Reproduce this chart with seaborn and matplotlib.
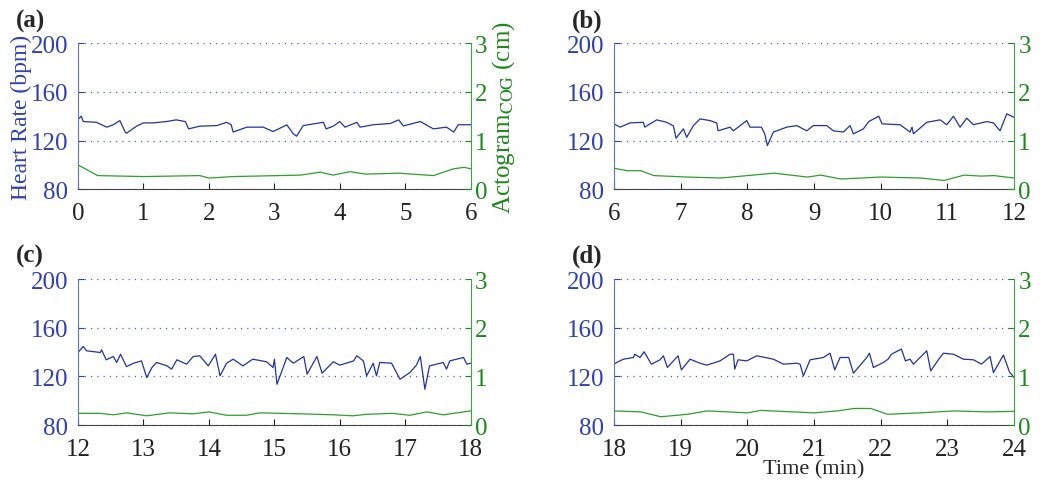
import numpy as np
import pandas as pd
import matplotlib
matplotlib.use("Agg")
import matplotlib.pyplot as plt
import seaborn as sns

# heart rate traces (time in min, bpm)
a_t = [0, 0.05, 0.08, 0.28, 0.44, 0.54, 0.64, 0.72, 0.74, 0.9, 1.0, 1.15, 1.35, 1.5, 1.64, 1.69,
       1.86, 2.12, 2.27, 2.34, 2.37, 2.58, 2.83, 2.98, 3.19, 3.29, 3.34, 3.44, 3.6, 3.75, 3.79,
       3.9, 4.0, 4.08, 4.26, 4.31, 4.51, 4.77, 4.9, 4.97, 5.23, 5.43, 5.63, 5.74, 5.81, 6.0]
a_hr = [137.5, 140, 135.6, 135, 131, 133, 136.4, 127, 126, 132, 134.5, 134.5, 135.6, 137, 135.6, 129.6,
        131.8, 132.3, 135, 133, 127, 131, 131, 127.4, 132.9, 125.5, 123.6, 132.3, 133.7, 135, 129.6,
        131.8, 135.6, 131, 135, 131, 133, 134, 137, 132, 135.6, 129.6, 131, 127, 133, 133]

b_t = [6, 6.09, 6.24, 6.44, 6.46, 6.64, 6.79, 6.89, 6.93, 7.04, 7.09, 7.19, 7.29, 7.44, 7.54, 7.56,
       7.74, 7.79, 7.99, 8.04, 8.21, 8.26, 8.3, 8.39, 8.59, 8.74, 8.89, 8.99, 9.19, 9.29, 9.44, 9.54,
       9.59, 9.74, 9.82, 9.97, 10.02, 10.29, 10.44, 10.47, 10.49, 10.69, 10.89, 10.99, 11.09, 11.19,
       11.29, 11.39, 11.59, 11.69, 11.79, 11.89, 12.0]
b_hr = [133.7, 131, 134.5, 135, 131, 137, 135, 132, 121.9, 129.6, 122.7, 132.3, 137.8, 136.4, 134.5, 128,
        131, 128, 136.4, 131, 131, 125.5, 115.9, 127, 131, 132.3, 128, 132.3, 132.3, 128, 127, 132.3,
        125.5, 129.6, 135.6, 140, 133.7, 133, 127, 131, 125.5, 135, 137, 133, 140, 131,
        138.4, 133, 135.6, 134.5, 128, 142, 139]

c_t = [12, 12.08, 12.13, 12.34, 12.36, 12.43, 12.54, 12.59, 12.65, 12.74, 12.85, 12.97, 13.05, 13.13,
       13.2, 13.36, 13.43, 13.51, 13.66, 13.76, 13.86, 13.99, 14.1, 14.17, 14.27, 14.37, 14.52, 14.67,
       14.88, 14.98, 15.0, 15.04, 15.19, 15.29, 15.45, 15.5, 15.65, 15.73, 15.9, 16.0, 16.21, 16.26,
       16.36, 16.41, 16.51, 16.56, 16.61, 16.79, 16.92, 17.07, 17.17, 17.23, 17.3, 17.37, 17.58,
       17.63, 17.68, 17.89, 17.94, 18.0]
c_hr = [139.6, 144.6, 141, 139.6, 141.8, 133.6, 136.3, 131.4, 138.2, 128, 130.8, 132.7, 119, 127.3,
        131.4, 128.6, 125.9, 133.6, 130, 136.3, 136.9, 128.6, 138.2, 120.4, 130.8, 134.1, 128.6, 134.1,
        132, 127.3, 134, 113.5, 135.5, 130.8, 136.3, 121.8, 136.3, 122.6, 132, 129.2, 132.7, 136.9,
        132.7, 120.4, 130.8, 120.4, 131.4, 130.8, 117.6, 123.1, 129.2, 136.3, 109.4, 128.6, 131.4,
        125.9, 132.7, 135.5, 130, 130.8]

d_t = [18, 18.04, 18.14, 18.29, 18.31, 18.39, 18.45, 18.56, 18.69, 18.74, 18.8, 18.96, 19.01, 19.14,
       19.29, 19.39, 19.59, 19.74, 19.79, 19.81, 19.86, 19.99, 20.14, 20.39, 20.54, 20.74, 20.79,
       20.84, 20.94, 21.14, 21.24, 21.31, 21.39, 21.52, 21.59, 21.79, 21.83, 21.89, 22.04, 22.11,
       22.16, 22.31, 22.37, 22.44, 22.49, 22.69, 22.75, 22.87, 22.94, 23.09, 23.24, 23.39, 23.51,
       23.64, 23.69, 23.84, 23.93, 24.0]
d_hr = [130, 131.4, 134.1, 135.5, 138.2, 135.5, 140.2, 130, 133.6, 136.9, 127.3, 136.9, 125.3, 134.1,
        130.8, 129.2, 132.7, 138.2, 138.2, 125.9, 133.6, 132.7, 136.9, 134.1, 130, 130.8, 130,
        120.4, 133.6, 135.5, 139, 125.3, 135.5, 135.5, 122.6, 135.5, 139, 127.3, 131.4, 134.1,
        138.2, 142.4, 132.7, 134.1, 130, 141, 124.5, 134.1, 139, 138.2, 134.1, 133.6, 130,
        136.3, 123.1, 137.5, 123.7, 119]

# actogram COG (time in min, cm)
a_at = [0, 0.3, 1.0, 1.86, 2.0, 2.37, 3.4, 3.7, 3.9, 4.15, 4.4, 4.9, 5.43, 5.74, 5.9, 6.0]
a_act = [0.5, 0.28, 0.26, 0.28, 0.23, 0.26, 0.29, 0.35, 0.29, 0.36, 0.31, 0.33, 0.28, 0.42, 0.45, 0.42]
b_at = [6, 6.2, 6.4, 6.6, 7.1, 7.6, 8.0, 8.4, 8.9, 9.1, 9.4, 10.0, 10.6, 10.95, 11.25, 11.5, 11.7, 12.0]
b_act = [0.43, 0.38, 0.38, 0.28, 0.25, 0.23, 0.28, 0.33, 0.25, 0.29, 0.21, 0.25, 0.23, 0.18, 0.29, 0.27, 0.28, 0.23]
c_at = [12, 12.34, 12.54, 12.74, 13.05, 13.4, 13.76, 14.0, 14.27, 14.57, 14.78, 15.4, 15.9, 16.2, 16.41,
        16.8, 17.07, 17.33, 17.58, 18.0]
c_act = [0.24, 0.24, 0.21, 0.25, 0.19, 0.25, 0.23, 0.27, 0.2, 0.2, 0.25, 0.23, 0.21, 0.19, 0.22,
         0.24, 0.2, 0.27, 0.21, 0.29]
d_at = [18, 18.4, 18.7, 19.1, 19.4, 20.0, 20.2, 21.0, 21.35, 21.6, 21.85, 22.1, 22.6, 23.1, 23.6, 24.0]
d_act = [0.29, 0.27, 0.17, 0.22, 0.29, 0.25, 0.3, 0.25, 0.29, 0.34, 0.34, 0.22, 0.25, 0.29, 0.27, 0.28]

panels = [
    ("(a)", a_t, a_hr, a_at, a_act, [0, 6]),
    ("(b)", b_t, b_hr, b_at, b_act, [6, 12]),
    ("(c)", c_t, c_hr, c_at, c_act, [12, 18]),
    ("(d)", d_t, d_hr, d_at, d_act, [18, 24]),
]

sns.set_style("ticks")
plt.rcParams["font.family"] = ["Liberation Serif", "DejaVu Serif"]
plt.rcParams["mathtext.fontset"] = "stix"

blue_line = "#2233a0"
blue_txt = "#3040b0"
green_line = "#2e9e2e"
green_txt = "#1a8a1a"

fig = plt.figure(figsize=(10.5, 4.89), dpi=100)
boxes = [
    [0.0743, 0.611, 0.374, 0.2986],
    [0.5848, 0.611, 0.381, 0.2986],
    [0.0743, 0.1288, 0.374, 0.2986],
    [0.5848, 0.1288, 0.381, 0.2986],
]
# panel letter positions in figure fraction
letter_xy = [(0.015, 0.98), (0.545, 0.98), (0.015, 0.5), (0.545, 0.5)]

for i, (lab, t, hr, at, act, xl) in enumerate(panels):
    ax = fig.add_axes(boxes[i])
    hr_df = pd.DataFrame({"time": t, "hr": hr})
    act_df = pd.DataFrame({"time": at, "act": act})
    sns.lineplot(data=hr_df, x="time", y="hr", ax=ax, color=blue_line, linewidth=0.9)
    ax.set_xlim(xl)
    ax.set_ylim(80, 200)
    ax.set_yticks([80, 120, 160, 200])
    ax.set_xticks(range(xl[0], xl[1] + 1))
    ax.grid(axis="y", linestyle=(0, (1, 4)), color="#5060c8", linewidth=0.9)
    ax.tick_params(axis="y", colors=blue_txt, labelsize=18, direction="in", length=4, pad=7)
    ax.tick_params(axis="x", labelsize=18, direction="in", length=4, colors="#222222", pad=9)
    ax.set_xlabel("")
    ax.set_ylabel("")
    for s in ["top", "right"]:
        ax.spines[s].set_visible(False)
    ax.spines["left"].set_color("#6070d0")
    ax.spines["bottom"].set_color("#444444")

    ax2 = ax.twinx()
    sns.lineplot(data=act_df, x="time", y="act", ax=ax2, color=green_line, linewidth=0.9)
    ax2.set_ylim(0, 3)
    ax2.set_yticks([0, 1, 2, 3])
    ax2.tick_params(axis="y", colors=green_txt, labelsize=18, direction="in", length=4, pad=3)
    ax2.set_ylabel("")
    ax2.set_xlabel("")
    for s in ["top", "left", "bottom"]:
        ax2.spines[s].set_visible(False)
    ax2.spines["right"].set_visible(True)
    ax2.spines["right"].set_color("#3aa83a")

    fig.text(letter_xy[i][0], letter_xy[i][1], lab, fontsize=18, fontweight="bold",
             va="top", ha="left")

    if i == 0:
        ax.set_ylabel("Heart Rate (bpm)", fontsize=17, color=blue_txt, labelpad=-1)
        ax2.set_ylabel(r"Actogram$_{\mathrm{COG}}$ (cm)", fontsize=18, color=green_txt, labelpad=2)
    if i == 3:
        ax.set_xlabel("Time (min)", fontsize=16, labelpad=0)

fig.savefig("out.png", dpi=100)
